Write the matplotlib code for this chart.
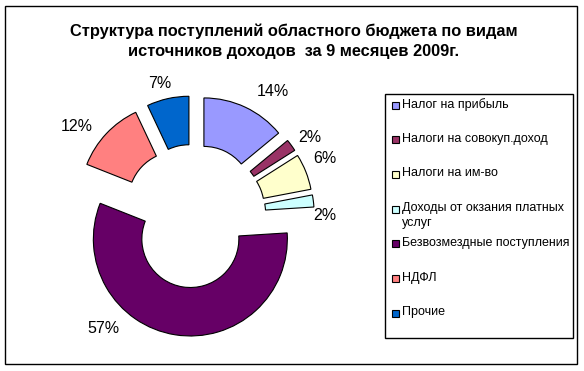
import matplotlib

matplotlib.use("Agg")
import matplotlib.pyplot as plt
import numpy as np
from matplotlib.patches import Rectangle

plt.rcParams["font.family"] = ["Liberation Sans", "DejaVu Sans"]

# data
categories = [
    "Налог на прибыль",
    "Налоги на совокуп.доход",
    "Налоги на им-во",
    "Доходы от окзания платных\nуслуг",
    "Безвозмездные поступления",
    "НДФЛ",
    "Прочие",
]
shares = [14, 2, 6, 2, 57, 12, 7]
colors = ["#9999FF", "#993366", "#FFFFCC", "#CCFFFF", "#660066", "#FF8080", "#0066CC"]
title = "Структура поступлений областного бюджета по видам\nисточников доходов  за 9 месяцев 2009г."

# label placement tweaks: (angle shift in deg, radius in units of pie radius)
label_pos = [(7, 1.52), (2, 1.44), (-2, 1.47), (7, 1.35), (30, 1.49), (-6, 1.52), (-2, 1.41)]

W, H = 584, 371
fig = plt.figure(figsize=(W / 100, H / 100), dpi=100, facecolor="white")

# canvas in pixel coords for frame, title, legend
canvas = fig.add_axes([0, 0, 1, 1])
canvas.set_xlim(0, W)
canvas.set_ylim(H, 0)
canvas.axis("off")
canvas.add_patch(Rectangle((5, 6), 572, 358, fill=False, edgecolor="black", lw=1.0))
canvas.text(294, 41, title, ha="center", va="center", fontsize=11.8, fontweight="bold",
            linespacing=1.4)

# pie axes, 1 unit = 97 px, centre at (194, 216) px
R = 97.0
cx, cy = 194, 216
ax = fig.add_axes([0, 0, 1, 1])
ax.patch.set_alpha(0)
wedges, _ = ax.pie(
    shares,
    colors=colors,
    startangle=90,
    counterclock=False,
    explode=[0.24] * len(shares),
    wedgeprops=dict(width=0.5, edgecolor="black", linewidth=0.8),
)
ax.set_xlim(-cx / R, (W - cx) / R)
ax.set_ylim(-(H - cy) / R, cy / R)
ax.set_aspect("auto")
ax.axis("off")

for w, val, (shift, r) in zip(wedges, shares, label_pos):
    thetam = np.deg2rad((w.theta1 + w.theta2) / 2 - shift)
    ax.text(r * np.cos(thetam), r * np.sin(thetam), f"{val}%", ha="center", va="center",
            fontsize=11.5)

# legend drawn by hand to match the boxed Excel-style legend
canvas.add_patch(Rectangle((385, 94), 188, 244, fill=False, edgecolor="black", lw=1.0))
for i, (name, col) in enumerate(zip(categories, colors)):
    y = 105 + i * 34.7
    canvas.add_patch(Rectangle((392, y - 3.5), 7, 7, facecolor=col, edgecolor="black", lw=0.8))
    canvas.text(402, y - 7, name, ha="left", va="top", fontsize=9.0, linespacing=1.3)

fig.savefig("out.png", dpi=100, facecolor="white")
